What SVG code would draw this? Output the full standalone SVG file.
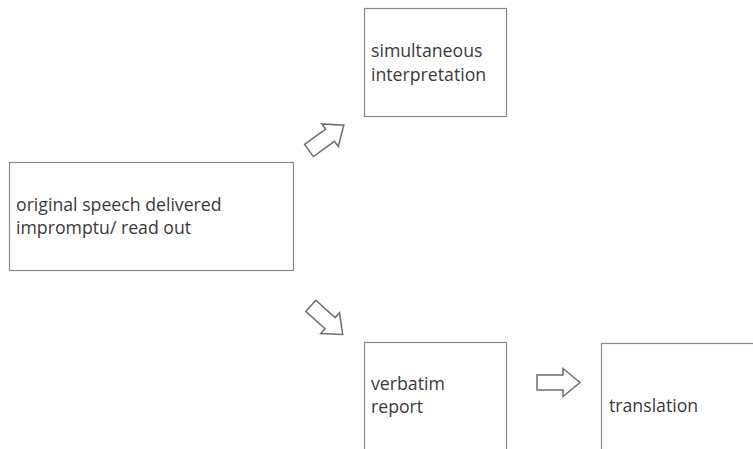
<svg xmlns="http://www.w3.org/2000/svg" width="753" height="449" viewBox="0 0 753 449">
<style>
.box{fill:#fff;stroke:#8a8a8a;stroke-width:1.2}
.lbl{font-family:"Open Sans","Noto Sans",sans-serif;font-size:17.7px;fill:#3a3a3a}
.arr{fill:#fff;stroke:#6e6e6e;stroke-width:1.5;stroke-linejoin:miter}
</style>
<defs>
<polygon id="blk" points="0,-7.5 26,-7.5 26,-14 43,0 26,14 26,7.5 0,7.5"/>
</defs>
<rect width="753" height="449" fill="#fff"/>
<g id="original">
<rect class="box" x="9.5" y="162.5" width="284" height="108"/>
<text class="lbl" x="16" y="211">original speech delivered</text>
<text class="lbl" x="16" y="234">impromptu/ read out</text>
</g>
<g id="simultaneous">
<rect class="box" x="364.5" y="8.5" width="142" height="108"/>
<text class="lbl" x="371" y="57">simultaneous</text>
<text class="lbl" x="371" y="81">interpretation</text>
</g>
<g id="verbatim">
<rect class="box" x="364.5" y="342.5" width="142" height="120"/>
<text class="lbl" x="371" y="390">verbatim</text>
<text class="lbl" x="371" y="413">report</text>
</g>
<g id="translation">
<rect class="box" x="601.5" y="343.5" width="170" height="120"/>
<text class="lbl" x="609" y="412">translation</text>
</g>
<g id="connectors">
<use href="#blk" class="arr" transform="translate(309,150.5) rotate(-36)"/>
<use href="#blk" class="arr" transform="translate(310.8,305.8) rotate(42)"/>
<use href="#blk" class="arr" transform="translate(537,382.5)"/>
</g>
</svg>
